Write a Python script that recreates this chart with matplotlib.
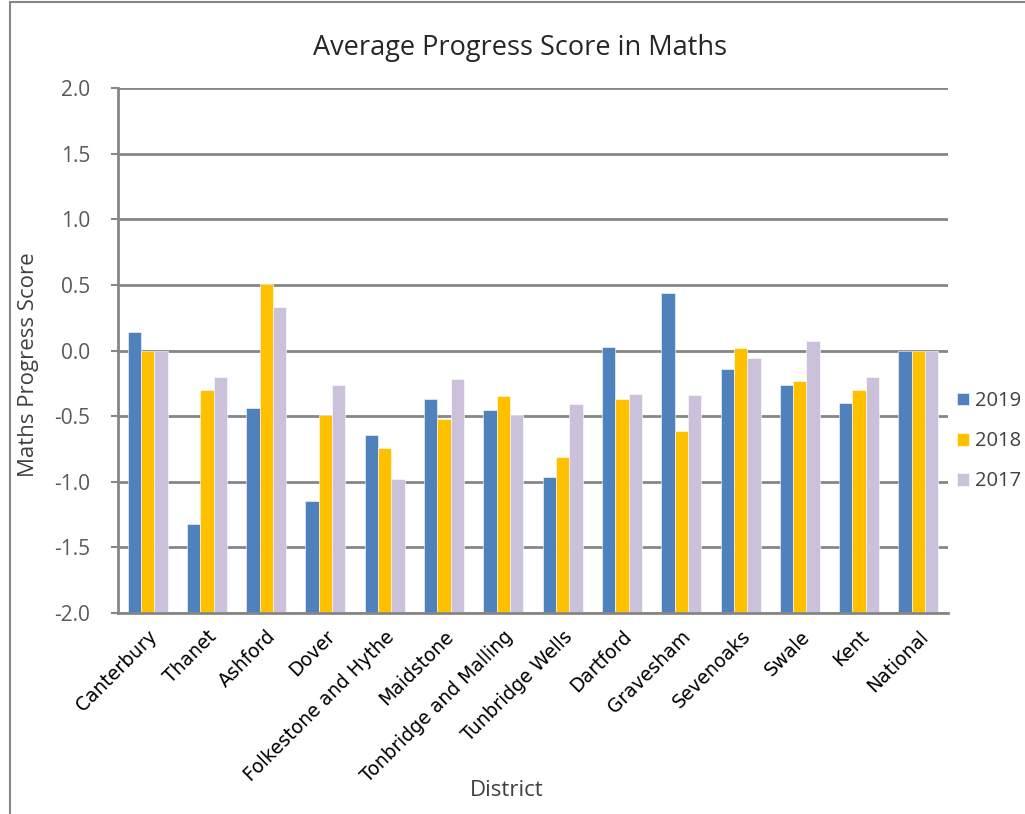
import matplotlib.pyplot as plt
import matplotlib.patches as patches
import numpy as np

plt.rcParams['font.family'] = ['Open Sans', 'DejaVu Sans']

districts = ["Canterbury", "Thanet", "Ashford", "Dover", "Folkestone and Hythe",
             "Maidstone", "Tonbridge and Malling", "Tunbridge Wells", "Dartford",
             "Gravesham", "Sevenoaks", "Swale", "Kent", "National"]
score_2019 = [0.14, -1.32, -0.44, -1.15, -0.64, -0.37, -0.45, -0.96, 0.03, 0.44, -0.14, -0.26, -0.40, 0.0]
score_2018 = [0.0, -0.30, 0.51, -0.49, -0.74, -0.52, -0.35, -0.81, -0.37, -0.61, 0.02, -0.23, -0.30, 0.0]
score_2017 = [0.0, -0.20, 0.33, -0.26, -0.98, -0.22, -0.49, -0.41, -0.33, -0.34, -0.06, 0.07, -0.20, 0.0]
years = ["2019", "2018", "2017"]
colors = ["#4F81BD", "#FFC000", "#CCC1DA"]

y_min, y_max = -2.0, 2.0

fig = plt.figure(figsize=(10.25, 8.14), dpi=100)
ax = fig.add_axes([0.1151, 0.2469, 0.8098, 0.645])

# chart border
fig.patches.append(patches.Rectangle((0.0098, -0.01), 1.2, 1.007, transform=fig.transFigure,
                                     fill=False, edgecolor="#868686", lw=1.5))

x = np.arange(len(districts))
w = 0.225
for k, (vals, lab, c) in enumerate(zip([score_2019, score_2018, score_2017], years, colors)):
    # bars rise from the bottom of the value axis
    heights = np.array(vals) - y_min
    ax.bar(x + (k - 1) * w, heights, width=w, bottom=y_min, color=c, label=lab, zorder=3,
           edgecolor="white", linewidth=0.4)

ax.set_xlim(-0.5, len(districts) - 0.5)
ax.set_ylim(y_min, y_max)
ticks = np.arange(y_min, y_max + 0.01, 0.5)
ax.set_yticks(ticks)
ax.set_yticklabels([f"{v:.1f}" for v in ticks])
ax.yaxis.grid(True, color="#868686", lw=2, zorder=0)
ax.set_axisbelow(True)

for s in ["top", "right"]:
    ax.spines[s].set_visible(False)
for s in ["left", "bottom"]:
    ax.spines[s].set_color("#868686")
    ax.spines[s].set_linewidth(2)
    ax.spines[s].set_zorder(4)

ax.tick_params(axis="y", colors="#868686", length=5, width=1.5, labelcolor="#595959",
               labelsize=15, pad=15)
ax.tick_params(axis="x", length=0, pad=10)
ax.set_xticks(x)
ax.set_xticklabels(districts, rotation=45, ha="right", rotation_mode="anchor",
                   fontsize=13.5, color="black", family="DejaVu Sans")

ax.set_title("Average Progress Score in Maths", fontsize=19.5, color="#262626", pad=24, x=0.484)
ax.set_ylabel("Maths Progress Score", fontsize=16, color="#404040")
ax.yaxis.set_label_coords(-0.095, 0.473)
fig.text(0.494, 0.022, "District", fontsize=16, color="#404040", ha="center")

ax.legend(loc="center left", bbox_to_anchor=(0.996, 0.327), frameon=False, fontsize=14.5,
          handlelength=0.6, handleheight=0.6, handletextpad=0.3, labelspacing=1.0,
          labelcolor="#404040", borderaxespad=0.2)

fig.savefig("out.png", dpi=100)
